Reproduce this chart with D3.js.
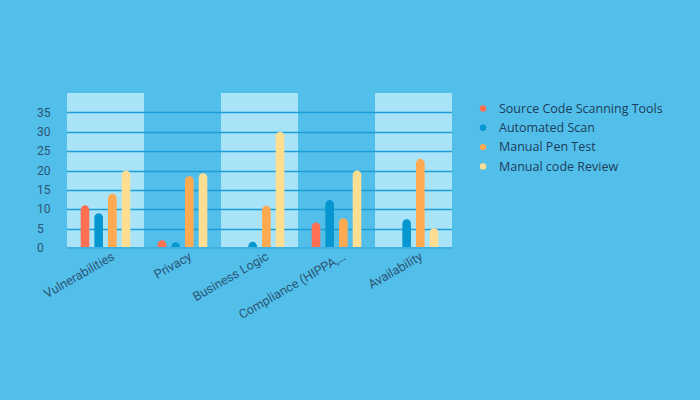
<!DOCTYPE html>
<html><head><meta charset="utf-8">
<script src="https://cdn.jsdelivr.net/npm/d3@7"></script>
<style>body{margin:0;background:#52bfeb;}svg{display:block;}</style>
</head><body><svg id="c" width="700" height="400"></svg>
<script>
const categories = ["Vulnerabilities","Privacy","Business Logic","Compliance (HIPPA,…","Availability"];
const seriesNames = ["Source Code Scanning Tools","Automated Scan","Manual Pen Test","Manual code Review"];
const sourceCode = [11, 2, 0, 6.6, 0];
const automated = [9, 1.5, 1.6, 12.4, 7.4];
const penTest = [14, 18.5, 10.9, 7.7, 23];
const codeReview = [20, 19.3, 30, 20, 5.1];
const yTicks = [0,5,10,15,20,25,30,35];
const colors = ["#ff6f52","#0797d0","#ffaa50","#ffde92"];
const series = [sourceCode, automated, penTest, codeReview];

const svg = d3.select("#c");
svg.append("rect").attr("width",700).attr("height",400).attr("fill","#52bfeb");
const x = d3.scaleBand().domain(categories).range([67,452]).padding(0);
const y = d3.scaleLinear().domain([0,40]).range([248,93]);
const inner = d3.scaleBand().domain(d3.range(4)).range([0,x.bandwidth()]).paddingInner(0.37).paddingOuter(1.0);

// bands
svg.selectAll("rect.band").data(categories.filter((d,i)=>i%2===0)).enter().append("rect")
  .attr("x",d=>x(d)).attr("y",y(40)).attr("width",x.bandwidth()).attr("height",y(0)-y(40))
  .attr("fill","#a9e3f8");
// grid
svg.selectAll("line.grid").data(yTicks.filter(t=>t>0)).enter().append("line")
  .attr("x1",67).attr("x2",452).attr("y1",d=>Math.round(y(d))+0.5).attr("y2",d=>Math.round(y(d))+0.5)
  .attr("stroke","#1b9dd6").attr("stroke-width",1.3);
// y labels
svg.selectAll("text.yl").data(yTicks).enter().append("text")
  .attr("x",37).attr("y",d=>y(d)).attr("dy","0.35em")
  .attr("font-family","Roboto").attr("font-size",12).attr("fill","#2a5573").text(d=>d);
// bars
const w = inner.bandwidth(), r = w/2;
series.forEach((vals,si)=>{
  svg.selectAll("path.s"+si).data(vals.map((v,i)=>({v,c:categories[i]})).filter(d=>d.v>0)).enter().append("path")
    .attr("fill",colors[si])
    .attr("d",d=>{
      const x0 = x(d.c)+inner(si), y0=y(0), y1=y(d.v);
      const rr = Math.min(r, y0-y1);
      return `M${x0},${y0}V${y1+rr}A${r},${rr} 0 0 1 ${x0+w},${y1+rr}V${y0}Z`;
    });
});
// zero line
svg.append("line").attr("x1",67).attr("x2",452).attr("y1",y(0)).attr("y2",y(0))
  .attr("stroke","#3eb1e4").attr("stroke-width",2);
// x labels
svg.selectAll("text.xl").data(categories).enter().append("text")
  .attr("transform",d=>`translate(${x(d)+x.bandwidth()/2+10},${259}) rotate(-30)`)
  .attr("text-anchor","end")
  .attr("font-family","Roboto").attr("font-size",12.6).attr("fill","#2a5573").text(d=>d);
// legend
const lg = svg.append("g");
seriesNames.forEach((n,i)=>{
  lg.append("circle").attr("cx",483).attr("cy",108.5+i*19.3).attr("r",3.2).attr("fill",colors[i]);
  lg.append("text").attr("x",499).attr("y",108.5+i*19.3).attr("dy","0.35em")
    .attr("font-family","Open Sans").attr("font-size",12.5).attr("fill","#1d3d5a").text(n);
});
</script></body></html>
